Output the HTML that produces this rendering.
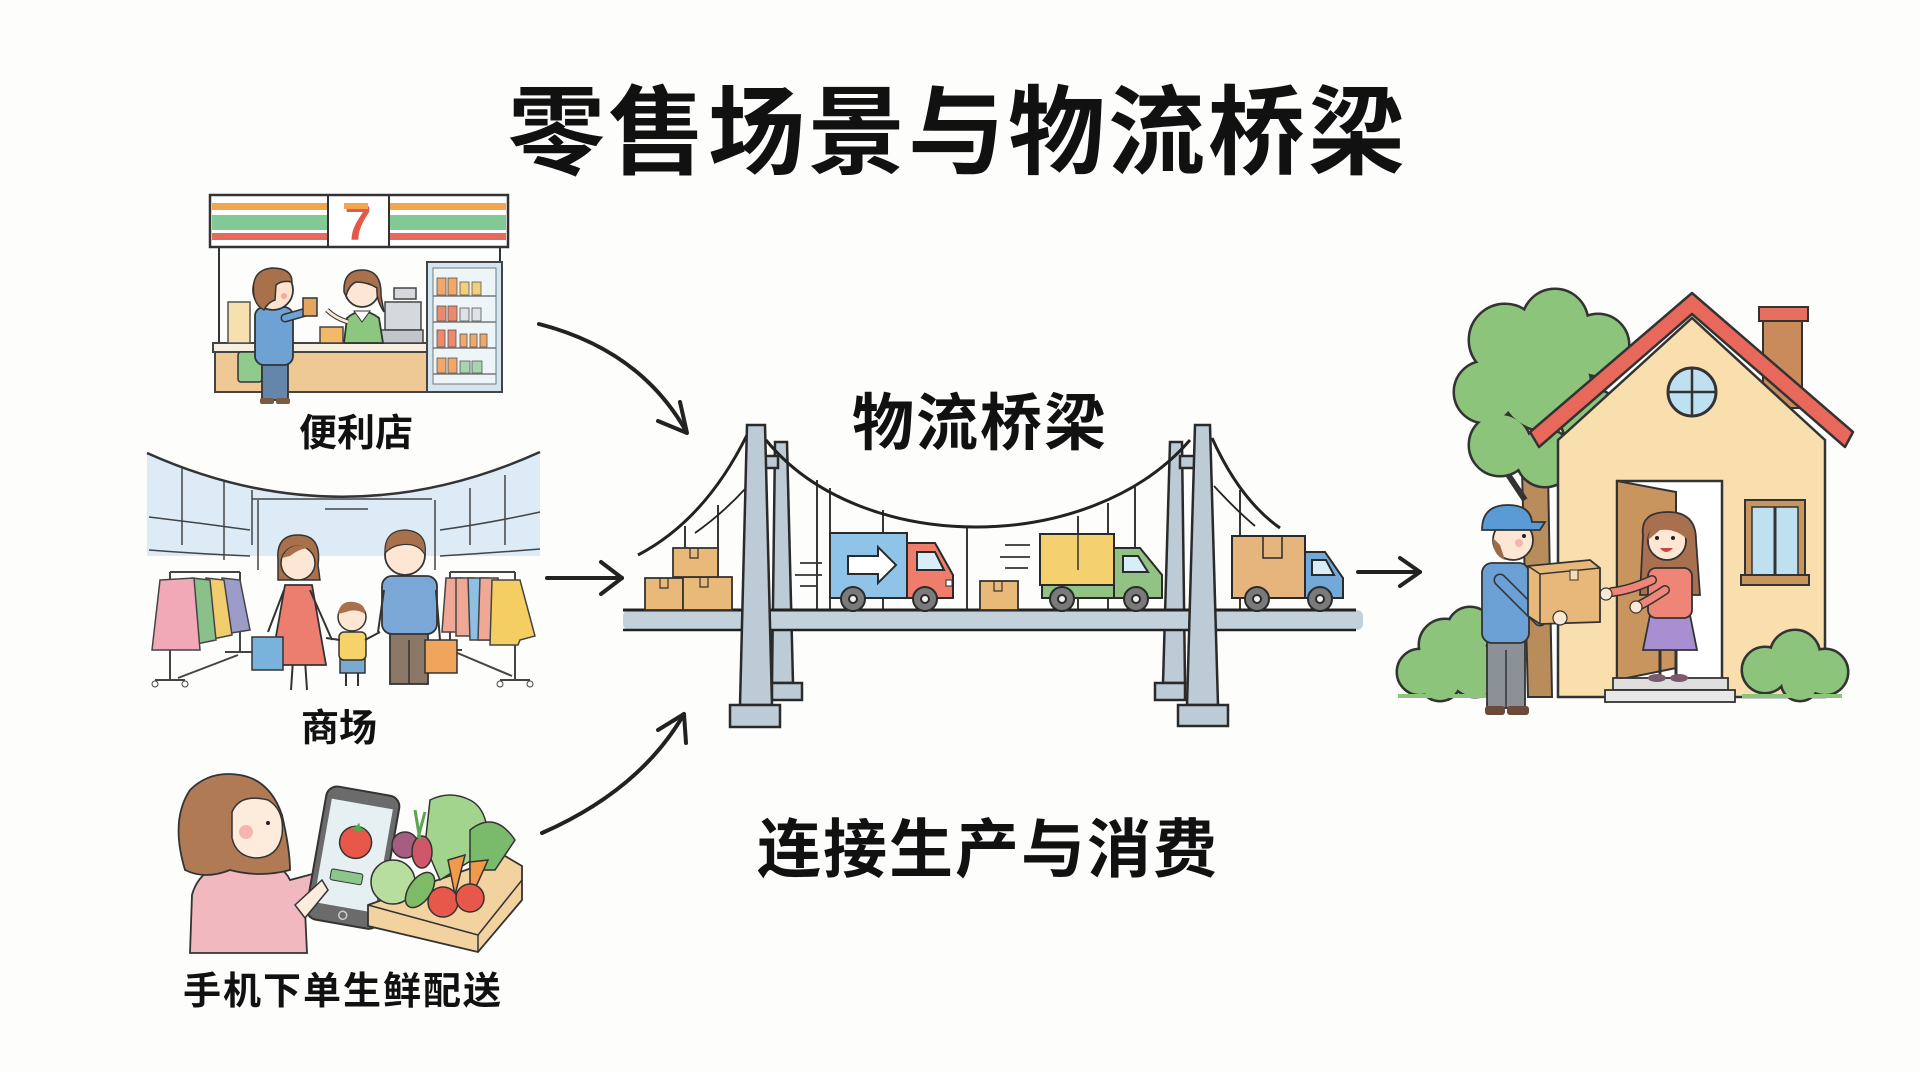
<!DOCTYPE html>
<html><head><meta charset="utf-8">
<style>
html,body{margin:0;padding:0;background:#fdfdfc;}
svg{display:block;}
text{font-family:"Liberation Sans","Noto Sans CJK SC",sans-serif;}
</style></head>
<body>
<svg width="1920" height="1072" viewBox="0 0 1920 1072" xmlns="http://www.w3.org/2000/svg">
<rect width="1920" height="1072" fill="#fdfdfc"/>

<!-- Titles -->
<text x="958" y="133" font-size="97" font-weight="700" text-anchor="middle" dominant-baseline="central" letter-spacing="3" fill="#111">零售场景与物流桥梁</text>
<text x="980" y="424" font-size="62" font-weight="700" text-anchor="middle" dominant-baseline="central" letter-spacing="2" fill="#111">物流桥梁</text>
<text x="988" y="850" font-size="64" font-weight="700" text-anchor="middle" dominant-baseline="central" letter-spacing="2" fill="#111">连接生产与消费</text>
<text x="356" y="434" font-size="38" font-weight="700" text-anchor="middle" dominant-baseline="central" fill="#111">便利店</text>
<text x="339" y="729" font-size="38" font-weight="700" text-anchor="middle" dominant-baseline="central" fill="#111">商场</text>
<text x="343" y="992" font-size="38" font-weight="700" text-anchor="middle" dominant-baseline="central" letter-spacing="2" fill="#111">手机下单生鲜配送</text>

<!-- ===== Convenience store ===== -->
<g stroke="#333" stroke-width="2">
  <line x1="219" y1="247" x2="219" y2="392"/>
  <line x1="500" y1="247" x2="500" y2="262"/>
  <rect x="210" y="195" width="298" height="52" fill="#fff" stroke-width="2.5"/>
  <rect x="212" y="203" width="116" height="7" fill="#f2a550" stroke="none"/>
  <rect x="212" y="215" width="116" height="15" fill="#82c995" stroke="none"/>
  <rect x="212" y="233" width="116" height="7" fill="#e76b5d" stroke="none"/>
  <rect x="389" y="203" width="117" height="7" fill="#f2a550" stroke="none"/>
  <rect x="389" y="215" width="117" height="15" fill="#82c995" stroke="none"/>
  <rect x="389" y="233" width="117" height="7" fill="#e76b5d" stroke="none"/>
  <line x1="328" y1="195" x2="328" y2="247"/>
  <line x1="389" y1="195" x2="389" y2="247"/>
</g>
<text x="358" y="240" font-size="48" font-weight="bold" fill="#e4584a" text-anchor="middle" font-family="Liberation Sans">7</text>
<rect x="344" y="203" width="24" height="6" fill="#f2a550"/>
<!-- fridge -->
<rect x="427" y="262" width="75" height="130" fill="#d3e5ef" stroke="#444" stroke-width="2"/>
<rect x="433" y="268" width="63" height="116" fill="#edf5f9" stroke="#777" stroke-width="1"/>
<g stroke="#777" stroke-width="1.5">
<line x1="433" y1="296" x2="496" y2="296"/><line x1="433" y1="322" x2="496" y2="322"/>
<line x1="433" y1="348" x2="496" y2="348"/><line x1="433" y1="374" x2="496" y2="374"/>
</g>
<g stroke="#555" stroke-width="0.8">
<rect x="437" y="278" width="9" height="17" fill="#f0a86a"/><rect x="448" y="278" width="9" height="17" fill="#f0a86a"/><rect x="460" y="282" width="9" height="13" fill="#f2cf7a"/><rect x="472" y="282" width="9" height="13" fill="#f2cf7a"/>
<rect x="437" y="306" width="9" height="15" fill="#e98a6e"/><rect x="448" y="306" width="9" height="15" fill="#e98a6e"/><rect x="460" y="308" width="9" height="13" fill="#dde3e6"/><rect x="472" y="308" width="9" height="13" fill="#dde3e6"/>
<rect x="437" y="330" width="8" height="17" fill="#ec8a6a"/><rect x="448" y="330" width="8" height="17" fill="#ec8a6a"/><rect x="460" y="334" width="7" height="13" fill="#f0a86a"/><rect x="470" y="334" width="7" height="13" fill="#f0a86a"/><rect x="480" y="334" width="7" height="13" fill="#f0a86a"/>
<rect x="437" y="358" width="9" height="15" fill="#f0a86a"/><rect x="448" y="358" width="9" height="15" fill="#f0a86a"/><rect x="460" y="361" width="10" height="12" fill="#a8d4b0"/><rect x="472" y="361" width="10" height="12" fill="#a8d4b0"/>
</g>
<!-- counter -->
<rect x="215" y="352" width="212" height="40" fill="#efc995" stroke="#444" stroke-width="2"/>
<rect x="213" y="343" width="214" height="9" fill="#f6efe2" stroke="#444" stroke-width="2"/>
<rect x="228" y="302" width="22" height="41" fill="#f7e0b0" stroke="#555" stroke-width="1.5"/>
<!-- register -->
<rect x="385" y="302" width="36" height="28" fill="#d5d9dc" stroke="#444" stroke-width="1.5"/>
<rect x="381" y="330" width="42" height="13" fill="#c2c6ca" stroke="#444" stroke-width="1.5"/>
<rect x="394" y="288" width="22" height="11" fill="#d5d9dc" stroke="#444" stroke-width="1.5"/>
<!-- clerk -->
<path d="M344,343 L347,318 Q362,305 379,318 L383,343 Z" fill="#8cc77f" stroke="#333" stroke-width="1.8"/>
<path d="M354,311 L362,322 L370,311 Z" fill="#fff" stroke="#333" stroke-width="1"/>
<path d="M348,322 Q335,318 327,310" fill="none" stroke="#333" stroke-width="5"/>
<path d="M348,322 Q335,318 327,310" fill="none" stroke="#fde6d3" stroke-width="3"/>
<circle cx="362" cy="290" r="17" fill="#fde6d3" stroke="#333" stroke-width="1.8"/>
<path d="M344,292 Q343,270 362,270 Q382,270 381,296 L384,312 Q376,300 377,288 Q368,282 356,282 Q349,285 346,296 Z" fill="#a8714c" stroke="#333" stroke-width="1.5"/>
<rect x="320" y="327" width="23" height="16" fill="#f2ba68" stroke="#444" stroke-width="1.5"/>
<!-- customer -->
<rect x="238" y="352" width="24" height="30" rx="3" fill="#8fc98c" stroke="#333" stroke-width="1.5"/>
<rect x="262" y="360" width="26" height="40" fill="#6386aa" stroke="#333" stroke-width="1.8"/>
<rect x="260" y="398" width="14" height="6" rx="2" fill="#7a5a45"/><rect x="276" y="398" width="14" height="6" rx="2" fill="#7a5a45"/>
<rect x="255" y="307" width="38" height="58" rx="9" fill="#6fa2d4" stroke="#333" stroke-width="1.8"/>
<path d="M285,318 L306,312" stroke="#333" stroke-width="9" stroke-linecap="round"/>
<path d="M285,318 L306,312" stroke="#6fa2d4" stroke-width="6" stroke-linecap="round"/>
<rect x="303" y="298" width="14" height="18" fill="#e2a65e" stroke="#333" stroke-width="1.5"/>
<circle cx="273" cy="290" r="20" fill="#fde3cf" stroke="#333" stroke-width="1.8"/>
<path d="M254,296 Q250,270 272,268 Q292,268 292,282 Q282,280 276,285 L275,300 Q268,302 264,310 Q256,306 254,296 Z" fill="#a8714c" stroke="#333" stroke-width="1.5"/>
<circle cx="284" cy="296" r="3" fill="#f4a9a0"/>

<!-- ===== Mall ===== -->
<path d="M147,453 Q343,541 540,452 L540,556 L147,556 Z" fill="#dcebf5"/>
<path d="M147,453 Q343,541 540,452" fill="none" stroke="#333" stroke-width="2.5"/>
<g stroke="#444" stroke-width="1.5" fill="none">
<line x1="182" y1="468" x2="182" y2="545"/><line x1="224" y1="482" x2="224" y2="560"/><line x1="252" y1="490" x2="252" y2="545"/>
<line x1="252" y1="499" x2="432" y2="499"/><line x1="258" y1="500" x2="258" y2="570"/><line x1="435" y1="500" x2="435" y2="570"/>
<line x1="470" y1="488" x2="470" y2="545"/><line x1="505" y1="475" x2="505" y2="545"/>
<path d="M149,517 Q200,523 250,530"/><path d="M149,550 Q200,554 250,556"/>
<path d="M440,530 Q490,523 540,512"/><path d="M440,556 Q490,553 540,549"/>
<line x1="325" y1="509" x2="368" y2="509"/>
</g>
<!-- left rack -->
<g stroke="#444" stroke-width="2" fill="none">
<line x1="170" y1="572" x2="240" y2="572"/><line x1="170" y1="572" x2="170" y2="680"/><line x1="240" y1="572" x2="240" y2="652"/>
<line x1="155" y1="680" x2="185" y2="680"/><line x1="225" y1="652" x2="252" y2="652"/>
<line x1="178" y1="678" x2="238" y2="655"/>
</g>
<g stroke="#444" stroke-width="1.5">
<path d="M222,578 L240,580 L250,630 L225,634 Z" fill="#9c9cc8"/>
<path d="M206,578 L224,580 L232,635 L208,640 Z" fill="#f2cd6f"/>
<path d="M192,578 L210,580 L216,640 L192,645 Z" fill="#8cc08a"/>
<path d="M160,580 L194,578 L200,650 L152,650 Z" fill="#f1a9b8"/>
</g>
<circle cx="155" cy="684" r="3" fill="none" stroke="#444"/><circle cx="185" cy="684" r="3" fill="none" stroke="#444"/>
<!-- right rack -->
<g stroke="#444" stroke-width="2" fill="none">
<line x1="450" y1="572" x2="515" y2="572"/><line x1="450" y1="572" x2="450" y2="650"/><line x1="515" y1="572" x2="515" y2="680"/>
<line x1="500" y1="680" x2="530" y2="680"/><line x1="438" y1="650" x2="462" y2="650"/>
<line x1="455" y1="652" x2="512" y2="676"/>
</g>
<g stroke="#444" stroke-width="1.5">
<path d="M446,578 L462,578 L468,632 L442,632 Z" fill="#f0a896"/>
<path d="M456,578 L474,578 L482,636 L456,636 Z" fill="#f0a896"/>
<path d="M468,578 L488,578 L492,640 L470,640 Z" fill="#8fbfe2"/>
<path d="M480,578 L498,578 L502,640 L478,640 Z" fill="#f0a896"/>
<path d="M492,580 L520,580 L535,636 L520,640 L518,645 L490,645 Z" fill="#f5ce63"/>
</g>
<circle cx="500" cy="684" r="3" fill="none" stroke="#444"/><circle cx="530" cy="684" r="3" fill="none" stroke="#444"/>
<!-- mom -->
<line x1="293" y1="660" x2="291" y2="690" stroke="#333" stroke-width="2"/><line x1="305" y1="660" x2="307" y2="690" stroke="#333" stroke-width="2"/>
<path d="M285,585 L312,585 L326,665 L271,665 Z" fill="#ec7e6f" stroke="#333" stroke-width="1.8"/>
<path d="M284,590 L268,632" stroke="#333" stroke-width="2"/>
<path d="M310,590 L332,640" stroke="#333" stroke-width="2"/>
<rect x="252" y="637" width="31" height="33" fill="#79b3dc" stroke="#333" stroke-width="1.5"/>
<path d="M278,560 Q276,535 298,535 Q322,535 318,565 L320,580 L278,580 Z" fill="#a8714c" stroke="#333" stroke-width="1.5"/>
<circle cx="298" cy="563" r="17" fill="#fde6d3" stroke="#333" stroke-width="1.5"/>
<path d="M282,558 Q290,540 310,548 Q300,548 290,556 Z" fill="#a8714c"/>
<!-- kid -->
<line x1="346" y1="672" x2="346" y2="686" stroke="#333" stroke-width="2"/><line x1="358" y1="672" x2="358" y2="686" stroke="#333" stroke-width="2"/>
<rect x="340" y="659" width="25" height="14" fill="#78a9cf" stroke="#333" stroke-width="1.5"/>
<rect x="339" y="632" width="27" height="28" rx="5" fill="#f5d36a" stroke="#333" stroke-width="1.5"/>
<path d="M340,640 L326,638 M365,640 L380,632" stroke="#333" stroke-width="2"/>
<circle cx="352" cy="617" r="14" fill="#fde6d3" stroke="#333" stroke-width="1.5"/>
<path d="M338,614 Q340,600 354,602 Q366,604 365,614 Q356,608 346,612 Z" fill="#a8714c"/>
<!-- dad -->
<rect x="390" y="630" width="38" height="54" fill="#8b7765" stroke="#333" stroke-width="1.8"/>
<line x1="409" y1="640" x2="409" y2="684" stroke="#333" stroke-width="1.5"/>
<rect x="382" y="576" width="55" height="58" rx="10" fill="#7aa7d6" stroke="#333" stroke-width="1.8"/>
<path d="M384,590 L378,632 M436,590 L440,640" stroke="#333" stroke-width="2"/>
<rect x="425" y="640" width="32" height="33" fill="#f0a55c" stroke="#333" stroke-width="1.5"/>
<circle cx="405" cy="555" r="20" fill="#fde6d3" stroke="#333" stroke-width="1.8"/>
<path d="M385,553 Q384,530 406,530 Q428,532 425,555 Q418,542 400,545 Q392,546 385,553 Z" fill="#a8714c" stroke="#333" stroke-width="1.2"/>

<!-- ===== Phone & veggies ===== -->
<path d="M190,953 L192,895 Q200,865 240,860 Q280,858 290,880 L320,872 L330,885 L305,910 L307,953 Z" fill="#f1b8c0" stroke="#333" stroke-width="1.8"/>
<path d="M185,870 Q170,820 190,790 Q210,770 240,775 Q270,780 282,815 Q290,850 290,870 Q260,878 230,870 Q205,880 185,870 Z" fill="#b07a55" stroke="#333" stroke-width="1.8"/>
<path d="M232,812 Q240,793 268,800 Q285,810 282,835 Q278,858 255,858 Q236,856 232,838 Z" fill="#fdebdc" stroke="#333" stroke-width="1.5"/>
<circle cx="246" cy="832" r="7" fill="#f6b3b0"/>
<circle cx="268" cy="823" r="2" fill="#222"/>
<g transform="rotate(10 352 857)">
<rect x="316" y="790" width="74" height="135" rx="11" fill="#6b6b6b" stroke="#333" stroke-width="2"/>
<rect x="322" y="803" width="62" height="105" fill="#e6f0f2"/>
<circle cx="353" cy="842" r="16" fill="#e8584a" stroke="#333" stroke-width="1.5"/>
<path d="M346,828 L353,832 L360,828 L355,826 L353,822 L351,826 Z" fill="#5aa54f"/>
<rect x="334" y="872" width="32" height="11" rx="2" fill="#8cc68a" stroke="#333" stroke-width="1"/>
<circle cx="353" cy="916" r="4" fill="none" stroke="#ccc" stroke-width="1.5"/>
</g>
<path d="M295,905 L322,880 L328,890 L305,918 Z" fill="#fdebdc" stroke="#333" stroke-width="1.5"/>
<!-- veg box -->
<path d="M368,905 L505,856 L522,866 L522,900 L478,952 L368,926 Z" fill="#f2d3a0" stroke="#333" stroke-width="1.8"/>
<path d="M368,905 L478,935 L522,880" fill="none" stroke="#333" stroke-width="1.5"/>
<path d="M478,935 L478,952" stroke="#333" stroke-width="1.5"/>
<g stroke="#333" stroke-width="1.5">
<path d="M430,800 Q450,790 470,800 Q490,810 488,850 L440,880 L425,845 Z" fill="#a3d48d"/>
<path d="M470,830 Q495,810 515,840 L495,870 L470,870 Z" fill="#79bb6a"/>
<circle cx="405" cy="845" r="13" fill="#a75d7d"/>
<ellipse cx="422" cy="852" rx="10" ry="16" fill="#d0566a"/>
<circle cx="393" cy="882" r="22" fill="#b7dd9f"/>
<ellipse cx="420" cy="890" rx="11" ry="20" transform="rotate(35 420 890)" fill="#7dbb66"/>
<path d="M448,860 L465,855 L455,895 Z" fill="#f09a4a"/>
<path d="M470,862 L488,860 L470,900 Z" fill="#f09a4a"/>
<circle cx="443" cy="902" r="15" fill="#e8584a"/>
<circle cx="470" cy="898" r="14" fill="#e8584a"/>
</g>
<path d="M420,840 L415,810 M418,838 L425,812" stroke="#5aa54f" stroke-width="3"/>

<!-- ===== Arrows ===== -->
<g fill="none" stroke="#222" stroke-width="4" stroke-linecap="round" stroke-linejoin="round">
<path d="M539,324 Q640,350 686,431"/>
<path d="M658,421 L687,433 L680,402"/>
<path d="M547,578 L622,578"/>
<path d="M601,562 L622,578 L601,594"/>
<path d="M542,833 Q640,790 684,714"/>
<path d="M658,730 L684,714 L686,743"/>
<path d="M1358,572 L1420,572"/>
<path d="M1400,558 L1420,572 L1400,586"/>
</g>

<!-- ===== Bridge ===== -->
<g stroke="#2a2a2a" stroke-width="2.5" fill="#bccbd5">
<path d="M775,442 L787,442 L793,683 L772,683 Z"/>
<rect x="772" y="683" width="30" height="17"/>
<path d="M1170,442 L1182,442 L1185,683 L1163,683 Z"/>
<rect x="1155" y="683" width="30" height="17"/>
</g>
<g fill="none" stroke="#222" stroke-width="3">
<path d="M766,440 C860,556 1090,556 1190,440"/>
<path d="M747,435 Q705,520 638,555"/>
<path d="M1212,438 Q1240,500 1280,528"/>
</g>
<g fill="none" stroke="#222" stroke-width="1.8">
<path d="M746,488 Q722,514 695,533"/>
<path d="M1214,486 Q1236,510 1255,526"/>
<line x1="685" y1="526" x2="685" y2="610"/><line x1="718" y1="505" x2="718" y2="610"/>
<line x1="817" y1="480" x2="817" y2="610"/><line x1="830" y1="488" x2="830" y2="610"/>
<line x1="883" y1="510" x2="883" y2="610"/><line x1="967" y1="526" x2="967" y2="610"/>
<line x1="1078" y1="516" x2="1078" y2="610"/><line x1="1108" y1="503" x2="1108" y2="610"/>
<line x1="1135" y1="487" x2="1135" y2="610"/><line x1="1240" y1="490" x2="1240" y2="610"/>
</g>
<rect x="623" y="610" width="740" height="20" rx="6" fill="#c3d1da"/>
<line x1="623" y1="610" x2="1356" y2="610" stroke="#222" stroke-width="3"/>
<line x1="623" y1="630" x2="1356" y2="630" stroke="#222" stroke-width="2.5"/>
<g stroke="#333" stroke-width="1.8" fill="#e8b978">
<rect x="645" y="578" width="38" height="32"/>
<rect x="683" y="577" width="49" height="33"/>
<rect x="673" y="548" width="45" height="29"/>
<rect x="980" y="581" width="38" height="29"/>
</g>
<g stroke="#333" stroke-width="1.2" fill="none">
<path d="M660,578 L660,588 L668,588 L668,578"/><path d="M700,577 L700,587 L708,587 L708,577"/>
<path d="M690,548 L690,558 L698,558 L698,548"/><path d="M994,581 L994,591 L1002,591 L1002,581"/>
</g>
<g stroke="#333" stroke-width="1.8">
<line x1="800" y1="563" x2="822" y2="563"/><line x1="795" y1="575" x2="822" y2="575"/><line x1="800" y1="586" x2="818" y2="586"/>
<line x1="1005" y1="545" x2="1030" y2="545"/><line x1="1000" y1="557" x2="1030" y2="557"/><line x1="1005" y1="568" x2="1028" y2="568"/>
</g>
<g stroke="#2a2a2a" stroke-width="2">
<rect x="830" y="533" width="77" height="65" fill="#8fc3e8"/>
<path d="M848,556 L878,556 L878,547 L896,565 L878,583 L878,574 L848,574 Z" fill="#fff"/>
<path d="M907,543 L935,543 L953,575 L953,598 L907,598 Z" fill="#ef7d6b"/>
<path d="M917,552 L935,552 L944,570 L917,570 Z" fill="#d7eef8"/>
<rect x="946" y="580" width="6" height="6" fill="#fff" stroke-width="1"/>
<circle cx="853" cy="599" r="12" fill="#7a7a7a"/><circle cx="853" cy="599" r="4" fill="#eee"/>
<circle cx="925" cy="599" r="12" fill="#7a7a7a"/><circle cx="925" cy="599" r="4" fill="#eee"/>
</g>
<g stroke="#2a2a2a" stroke-width="2">
<rect x="1042" y="585" width="72" height="13" fill="#93c384"/>
<rect x="1040" y="534" width="74" height="51" fill="#f4d06f"/>
<path d="M1114,548 L1140,548 L1162,575 L1162,598 L1114,598 Z" fill="#93c384"/>
<path d="M1123,556 L1138,556 L1148,572 L1123,572 Z" fill="#d7eef8"/>
<circle cx="1062" cy="599" r="12" fill="#7a7a7a"/><circle cx="1062" cy="599" r="4" fill="#eee"/>
<circle cx="1136" cy="599" r="12" fill="#7a7a7a"/><circle cx="1136" cy="599" r="4" fill="#eee"/>
</g>
<line x1="1078" y1="534" x2="1078" y2="570" stroke="#333" stroke-width="1.5"/>
<g stroke="#2a2a2a" stroke-width="2">
<rect x="1232" y="536" width="73" height="62" fill="#e6b57e"/>
<path d="M1263,536 L1263,558 L1282,558 L1282,536" fill="none" stroke-width="1.5"/>
<path d="M1305,552 L1325,552 L1343,578 L1343,598 L1305,598 Z" fill="#72a9d8"/>
<path d="M1312,560 L1326,560 L1334,575 L1312,575 Z" fill="#d7eef8"/>
<circle cx="1257" cy="599" r="12" fill="#7a7a7a"/><circle cx="1257" cy="599" r="4" fill="#eee"/>
<circle cx="1320" cy="599" r="12" fill="#7a7a7a"/><circle cx="1320" cy="599" r="4" fill="#eee"/>
</g>
<g stroke="#2a2a2a" stroke-width="2.5" fill="#bccbd5">
<rect x="764" y="456" width="14" height="12"/>
<path d="M747,425 L765,425 L772,705 L740,705 Z"/>
<rect x="730" y="705" width="50" height="22"/>
<rect x="1180" y="456" width="16" height="12"/>
<path d="M1195,425 L1210,425 L1218,705 L1187,705 Z"/>
<rect x="1178" y="705" width="50" height="21"/>
</g>

<!-- ===== House scene ===== -->
<path d="M1522,470 L1548,470 L1552,697 L1528,697 Z" fill="#b98c5c" stroke="#333" stroke-width="2"/>
<path d="M1525,500 L1505,470" stroke="#333" stroke-width="6"/>
<g fill="#8cc47c" stroke="#333" stroke-width="5">
<circle cx="1505" cy="340" r="35"/><circle cx="1555" cy="322" r="32"/><circle cx="1598" cy="345" r="30"/>
<circle cx="1485" cy="392" r="30"/><circle cx="1500" cy="445" r="30"/><circle cx="1545" cy="458" r="28"/>
<circle cx="1592" cy="420" r="30"/><circle cx="1545" cy="385" r="45"/>
</g>
<g fill="#8cc47c">
<circle cx="1505" cy="340" r="35"/><circle cx="1555" cy="322" r="32"/><circle cx="1598" cy="345" r="30"/>
<circle cx="1485" cy="392" r="30"/><circle cx="1500" cy="445" r="30"/><circle cx="1545" cy="458" r="28"/>
<circle cx="1592" cy="420" r="30"/><circle cx="1545" cy="385" r="45"/>
</g>
<rect x="1763" y="318" width="39" height="90" fill="#c98a5c" stroke="#333" stroke-width="2"/>
<rect x="1759" y="307" width="49" height="14" fill="#e5705f" stroke="#333" stroke-width="2"/>
<path d="M1558,440 L1692,318 L1825,440 L1825,697 L1558,697 Z" fill="#f9dfae" stroke="#333" stroke-width="2.5"/>
<path d="M1530,432 L1692,293 L1853,432 L1845,447 L1692,314 L1539,447 Z" fill="#e8695b" stroke="#333" stroke-width="2.5" stroke-linejoin="round"/>
<circle cx="1692" cy="392" r="24" fill="#bfe0f0" stroke="#333" stroke-width="3"/>
<line x1="1692" y1="368" x2="1692" y2="416" stroke="#333" stroke-width="2.5"/>
<line x1="1668" y1="392" x2="1716" y2="392" stroke="#333" stroke-width="2.5"/>
<rect x="1617" y="481" width="105" height="199" fill="#fff" stroke="#333" stroke-width="2.5"/>
<path d="M1617,481 L1676,492 L1676,668 L1617,680 Z" fill="#c8955f" stroke="#333" stroke-width="2"/>
<rect x="1745" y="500" width="60" height="80" fill="#c8955f" stroke="#333" stroke-width="2"/>
<rect x="1752" y="507" width="46" height="68" fill="#bfe0f0" stroke="#333" stroke-width="1.5"/>
<line x1="1775" y1="507" x2="1775" y2="575" stroke="#333" stroke-width="3"/>
<rect x="1741" y="575" width="68" height="10" fill="#c8955f" stroke="#333" stroke-width="2"/>
<rect x="1613" y="678" width="115" height="12" fill="#dedede" stroke="#333" stroke-width="1.8"/>
<rect x="1605" y="690" width="130" height="12" fill="#e8e8e8" stroke="#333" stroke-width="1.8"/>
<g fill="#8cc47c" stroke="#333" stroke-width="5">
<circle cx="1420" cy="672" r="22"/><circle cx="1445" cy="645" r="25"/><circle cx="1470" cy="630" r="22"/><circle cx="1475" cy="670" r="26"/><circle cx="1440" cy="680" r="20"/>
<circle cx="1765" cy="670" r="22"/><circle cx="1795" cy="655" r="24"/><circle cx="1825" cy="672" r="22"/><circle cx="1800" cy="682" r="18"/>
</g>
<g fill="#8cc47c">
<circle cx="1420" cy="672" r="22"/><circle cx="1445" cy="645" r="25"/><circle cx="1470" cy="630" r="22"/><circle cx="1475" cy="670" r="26"/><circle cx="1440" cy="680" r="20"/>
<circle cx="1765" cy="670" r="22"/><circle cx="1795" cy="655" r="24"/><circle cx="1825" cy="672" r="22"/><circle cx="1800" cy="682" r="18"/>
</g>
<rect x="1398" y="694" width="92" height="4" fill="#8cc47c"/>
<rect x="1742" y="694" width="100" height="4" fill="#8cc47c"/>
<path d="M1643,535 Q1640,512 1668,512 Q1696,512 1696,540 L1700,595 L1640,595 Z" fill="#a8704f" stroke="#333" stroke-width="1.8"/>
<line x1="1660" y1="645" x2="1660" y2="675" stroke="#333" stroke-width="3"/><line x1="1676" y1="645" x2="1676" y2="675" stroke="#333" stroke-width="3"/>
<ellipse cx="1657" cy="678" rx="9" ry="4" fill="#7b5a6e"/><ellipse cx="1679" cy="678" rx="9" ry="4" fill="#7b5a6e"/>
<path d="M1650,615 L1690,615 L1697,650 L1643,650 Z" fill="#a88fd1" stroke="#333" stroke-width="1.8"/>
<rect x="1648" y="568" width="44" height="50" rx="8" fill="#ee8577" stroke="#333" stroke-width="1.8"/>
<path d="M1652,580 Q1630,590 1612,592" stroke="#333" stroke-width="10" stroke-linecap="round" fill="none"/>
<path d="M1652,580 Q1630,590 1612,592" stroke="#ee8577" stroke-width="7" stroke-linecap="round" fill="none"/>
<path d="M1665,590 Q1650,600 1640,605" stroke="#333" stroke-width="10" stroke-linecap="round" fill="none"/>
<path d="M1665,590 Q1650,600 1640,605" stroke="#ee8577" stroke-width="7" stroke-linecap="round" fill="none"/>
<circle cx="1606" cy="594" r="6" fill="#fde6d3" stroke="#333" stroke-width="1.2"/>
<circle cx="1636" cy="607" r="6" fill="#fde6d3" stroke="#333" stroke-width="1.2"/>
<circle cx="1667" cy="541" r="19" fill="#fde6d3" stroke="#333" stroke-width="1.8"/>
<path d="M1648,540 Q1650,518 1670,520 Q1688,522 1688,540 Q1676,528 1660,530 Z" fill="#a8704f"/>
<path d="M1660,548 Q1666,556 1673,548 Z" fill="#c44" />
<circle cx="1657" cy="538" r="2" fill="#222"/><circle cx="1673" cy="538" r="2" fill="#222"/>
<rect x="1487" y="638" width="38" height="70" fill="#8c9097" stroke="#333" stroke-width="1.8"/>
<line x1="1506" y1="650" x2="1506" y2="708" stroke="#333" stroke-width="1.5"/>
<rect x="1485" y="706" width="20" height="9" rx="3" fill="#6b4a3a"/><rect x="1507" y="706" width="22" height="9" rx="3" fill="#6b4a3a"/>
<rect x="1482" y="563" width="47" height="80" rx="10" fill="#6aa0d3" stroke="#333" stroke-width="1.8"/>
<path d="M1500,580 L1540,620" stroke="#333" stroke-width="13" stroke-linecap="round"/>
<path d="M1500,580 L1540,620" stroke="#6aa0d3" stroke-width="10" stroke-linecap="round"/>
<path d="M1528,566 L1590,560 L1600,568 L1600,622 L1540,624 L1528,616 Z" fill="#e8b87a" stroke="#333" stroke-width="1.8"/>
<path d="M1528,566 L1540,574 L1600,568 M1540,574 L1540,624" fill="none" stroke="#333" stroke-width="1.5"/>
<rect x="1570" y="570" width="8" height="10" fill="#f4ddb0" stroke="#333" stroke-width="1"/>
<circle cx="1560" cy="618" r="7" fill="#fde6d3" stroke="#333" stroke-width="1.2"/>
<circle cx="1513" cy="540" r="20" fill="#fde6d3" stroke="#333" stroke-width="1.8"/>
<path d="M1493,538 Q1492,555 1505,560 L1500,545 Z" fill="#9b6b4a"/>
<circle cx="1519" cy="543" r="4" fill="#f6b3b0"/>
<circle cx="1524" cy="536" r="2" fill="#222"/>
<path d="M1482,530 Q1482,505 1508,505 Q1530,505 1532,522 L1545,522 L1540,530 Z" fill="#5b9bd5" stroke="#333" stroke-width="1.8"/>
</svg>
</body></html>
